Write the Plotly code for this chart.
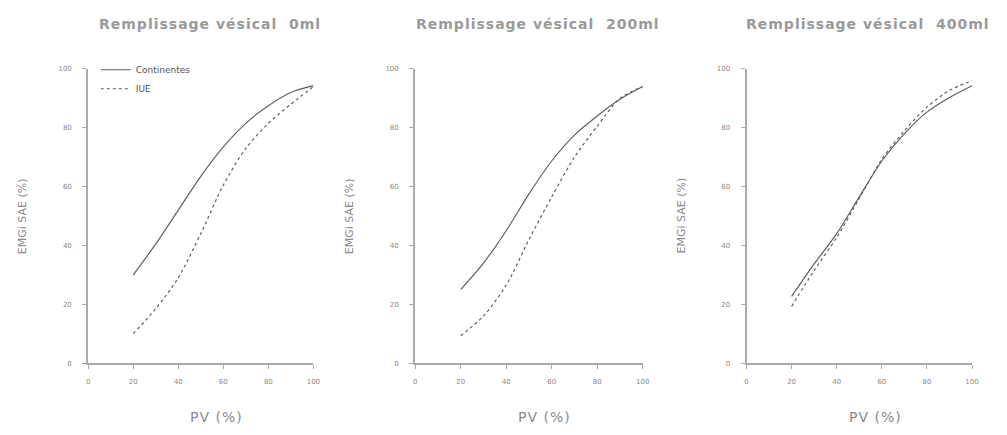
import plotly.graph_objects as go

pv = [20, 30, 40, 50, 60, 70, 80, 90, 100]

cont_0 = [30, 40.5, 52, 63.5, 73.5, 81.5, 87.5, 92, 94.3]
iue_0 = [10, 18.5, 29, 44, 60.5, 73, 81.5, 88, 94]

cont_200 = [25, 34, 45, 57.5, 68.7, 77.5, 84, 89.7, 94]
iue_200 = [9.3, 16, 26.5, 42, 56.5, 70, 80.5, 90, 94]

cont_400 = [22.7, 33.7, 44, 56.5, 68.7, 78, 85.3, 90.3, 94.3]
iue_400 = [19.3, 31.5, 42.7, 56, 69.3, 79, 87, 92.7, 96]

titles = ["Remplissage vésical  0ml", "Remplissage vésical  200ml", "Remplissage vésical  400ml"]
series_names = ["Continentes", "IUE"]
tick_vals = [0, 20, 40, 60, 80, 100]
x_title = "PV (%)"
y_title = "EMGi SAE (%)"

panels = [(cont_0, iue_0), (cont_200, iue_200), (cont_400, iue_400)]
x_domains = [(0.0864, 0.312), (0.414, 0.642), (0.746, 0.972)]
y_domain = (0.159, 0.848)

line_col = "#606060"
axis_col = "#ababab"
text_col = "#8a8a8a"
font_fam = "DejaVu Sans"


def spaced(t, px):
    return f'<span style="letter-spacing:{px}px">{t}</span>'


fig = go.Figure()
for i, (c, u) in enumerate(panels):
    xa = "x" if i == 0 else f"x{i+1}"
    ya = "y" if i == 0 else f"y{i+1}"
    fig.add_trace(go.Scatter(x=pv, y=c, mode="lines", name=series_names[0],
                             line=dict(color=line_col, width=1.2, shape="spline", smoothing=0.8),
                             xaxis=xa, yaxis=ya, showlegend=(i == 0)))
    fig.add_trace(go.Scatter(x=pv, y=u, mode="lines", name=series_names[1],
                             line=dict(color=line_col, width=1.2, dash="3px,3px", shape="spline", smoothing=0.8),
                             xaxis=xa, yaxis=ya, showlegend=(i == 0)))

layout = dict(
    width=1007, height=435,
    margin=dict(l=0, r=0, t=0, b=0),
    paper_bgcolor="white", plot_bgcolor="white",
    font=dict(family=font_fam, color=text_col),
    legend=dict(x=0.094, y=0.88, xanchor="left", yanchor="top",
                font=dict(size=9, color="#555"), itemwidth=30,
                bgcolor="rgba(0,0,0,0)", tracegroupgap=0),
)
annotations = []
for i in range(3):
    xk = "xaxis" if i == 0 else f"xaxis{i+1}"
    yk = "yaxis" if i == 0 else f"yaxis{i+1}"
    xa = "x" if i == 0 else f"x{i+1}"
    ya = "y" if i == 0 else f"y{i+1}"
    layout[xk] = dict(domain=list(x_domains[i]), range=[0, 100], tickvals=tick_vals,
                      showgrid=False, zeroline=False, showline=True, linecolor=axis_col,
                      linewidth=2, ticks="outside", ticklen=4, tickcolor=axis_col,
                      ticklabelstandoff=6,
                      tickfont=dict(size=7, color="#888"), anchor=ya, fixedrange=True)
    layout[yk] = dict(domain=list(y_domain), range=[0, 100], tickvals=tick_vals,
                      showgrid=False, zeroline=False, showline=True, linecolor=axis_col,
                      linewidth=2, ticks="outside", ticklen=4, tickcolor=axis_col,
                      ticklabelstandoff=9,
                      tickfont=dict(size=7, color="#888"), anchor=xa, fixedrange=True)
    annotations.append(dict(text=spaced(titles[i], 1), x=0.54, xref=f"{xa} domain", y=1.0, yref="paper",
                            yshift=-20, showarrow=False, xanchor="center", yanchor="middle",
                            font=dict(size=14, color="#9a9a9a", family=font_fam, weight="bold")))
    annotations.append(dict(text=spaced(x_title, 1), x=0.57, xref=f"{xa} domain", y=0, yref="paper",
                            yshift=14, showarrow=False, xanchor="center", yanchor="middle",
                            font=dict(size=14, color="#8a8a8a", family=font_fam)))
    annotations.append(dict(text=y_title, x=0, xref=f"{xa} domain", y=0.5, yref=f"{ya} domain",
                            xshift=-66, showarrow=False, textangle=-90, xanchor="center",
                            yanchor="middle", font=dict(size=11, color="#8a8a8a", family=font_fam)))
layout["annotations"] = annotations
fig.update_layout(**layout)
fig.write_html("out.html")
